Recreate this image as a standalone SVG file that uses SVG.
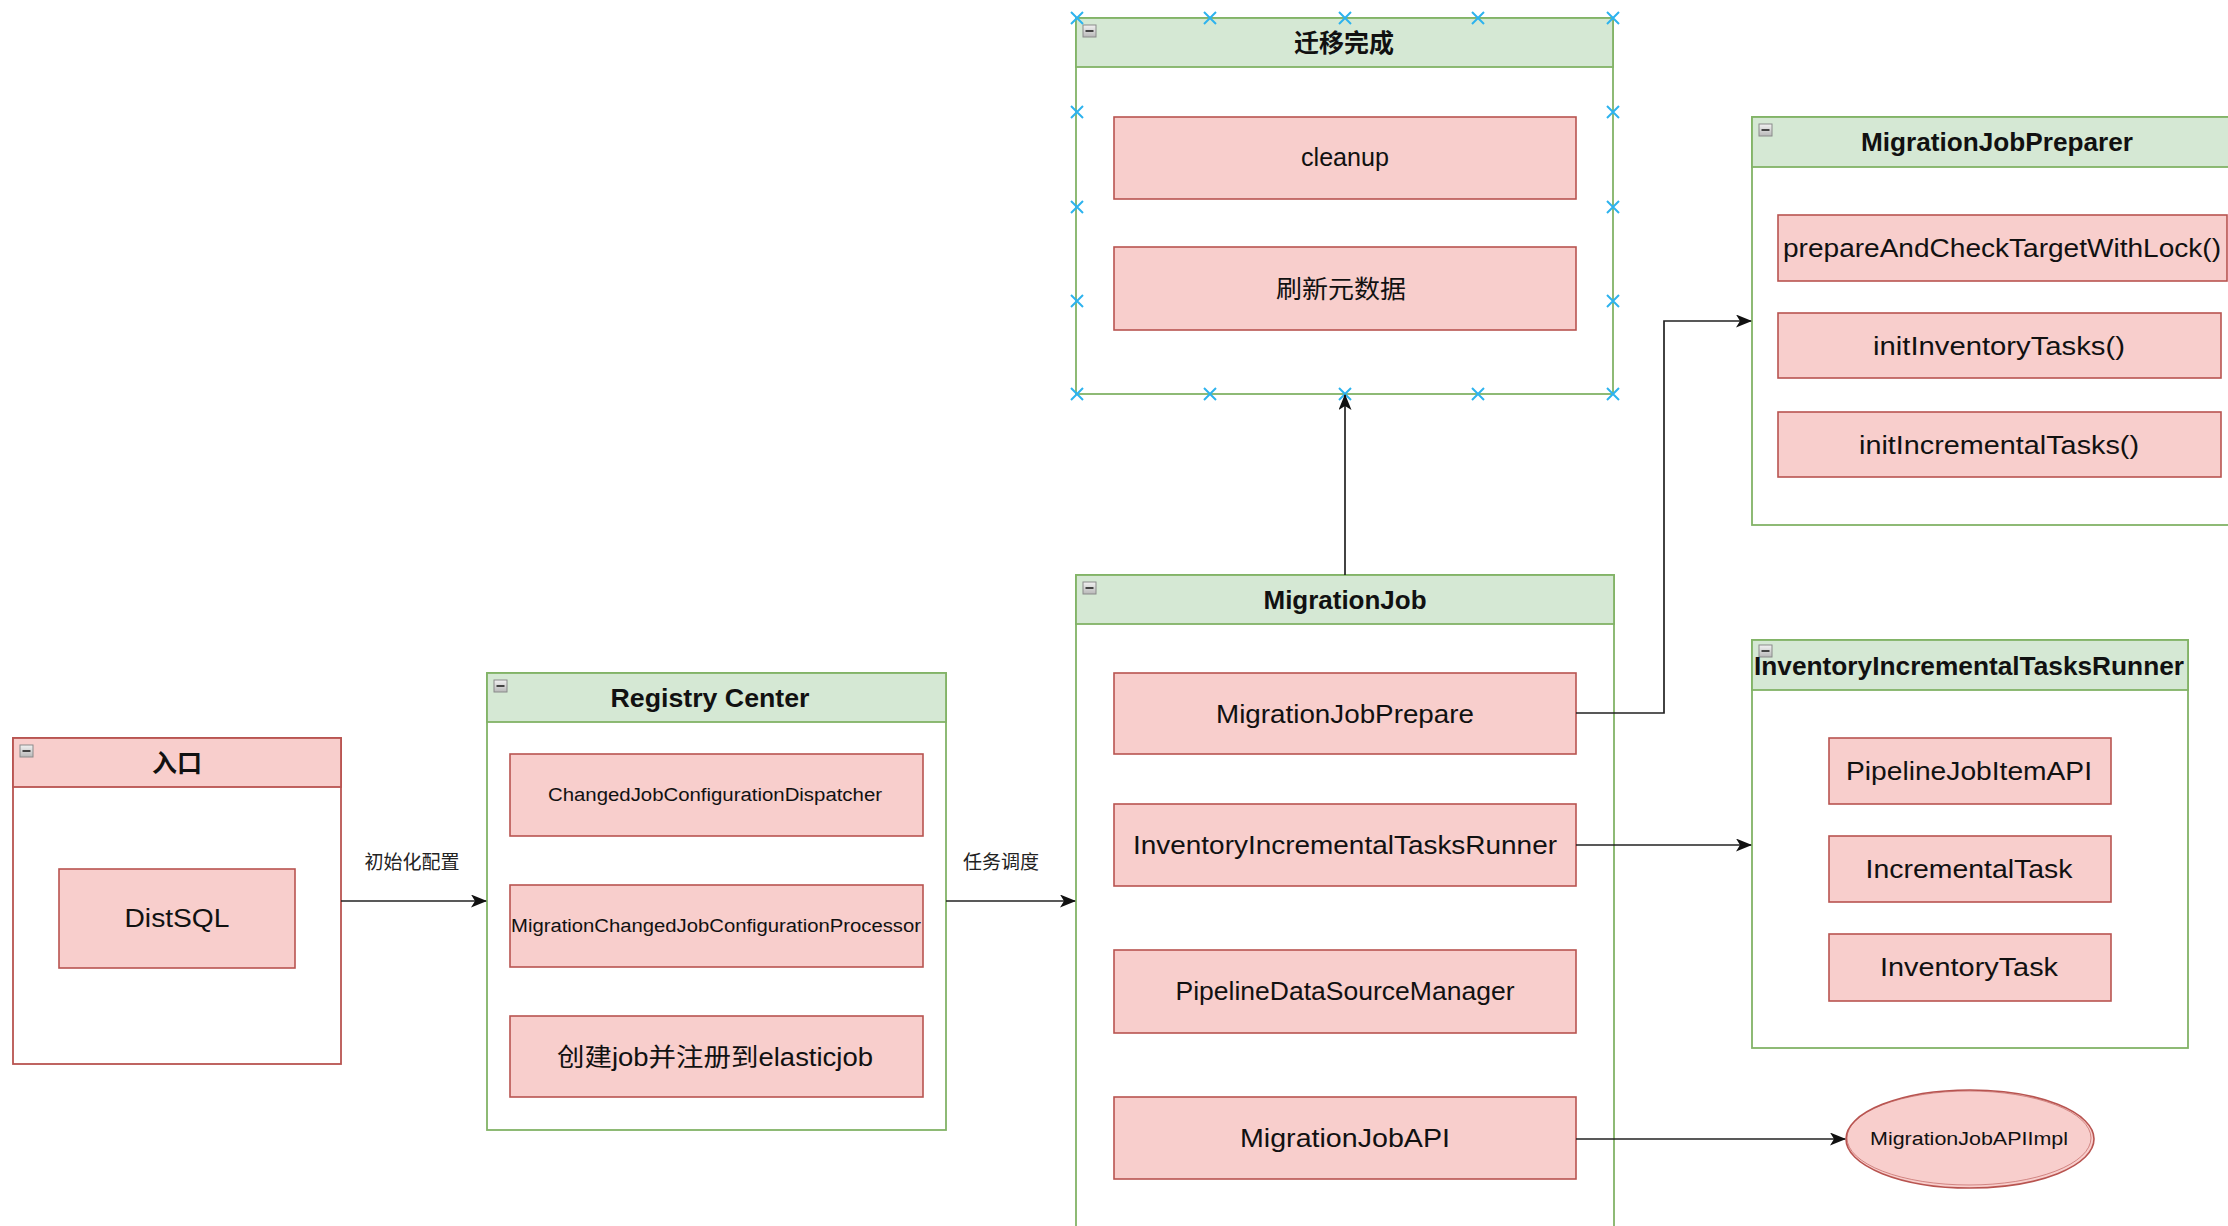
<svg xmlns="http://www.w3.org/2000/svg" width="2228" height="1226" viewBox="0 0 2228 1226">
<style>
.pk{fill:#f8cecc;stroke:#b85450;stroke-width:1.6}
.gbox{fill:#ffffff;stroke:#82b366;stroke-width:1.8}
.gh{fill:#d5e8d4;stroke:#82b366;stroke-width:1.8}
.rbox{fill:#ffffff;stroke:#b85450;stroke-width:1.8}
.rh{fill:#f8cecc;stroke:#b85450;stroke-width:1.8}
.t{font-family:"Liberation Sans","Noto Sans CJK SC",sans-serif;font-size:25px;fill:#111;text-anchor:middle;dominant-baseline:central}
.tb{font-family:"Liberation Sans","Noto Sans CJK SC",sans-serif;font-size:25px;font-weight:bold;fill:#111;text-anchor:middle;dominant-baseline:central}
.ts{font-family:"Liberation Sans","Noto Sans CJK SC",sans-serif;font-size:18px;fill:#111;text-anchor:middle;dominant-baseline:central}
.lbl{font-family:"Noto Sans CJK SC","Liberation Sans",sans-serif;font-size:19px;fill:#222;text-anchor:middle;dominant-baseline:central}
.cn{fill:none;stroke:#222;stroke-width:1.7}
.xm{stroke:#2db3ee;stroke-width:2;fill:none}
</style>
<defs>
<linearGradient id="ig" x1="0" y1="0" x2="0" y2="1"><stop offset="0" stop-color="#f2f2f2"/><stop offset="1" stop-color="#b8b8b8"/></linearGradient>
<g id="icon"><rect x="0" y="0" width="13" height="12" fill="url(#ig)" stroke="#8a8a8a" stroke-width="1"/><line x1="2.5" y1="6" x2="10.5" y2="6" stroke="#444" stroke-width="2"/></g>
<marker id="ah" markerWidth="18" markerHeight="14" refX="15" refY="6.5" orient="auto" markerUnits="userSpaceOnUse"><path d="M0,0 L16,6.5 L0,13 L4,6.5 Z" fill="#111"/></marker>
<path id="xx" d="M-6,-6 L6,6 M-6,6 L6,-6"/>
</defs>

<g id="entry">
<rect class="rbox" x="13" y="738" width="328" height="326"/>
<rect class="rh" x="13" y="738" width="328" height="49"/>
<use href="#icon" x="20" y="745"/>
<text class="tb" x="177" y="763">入口</text>
</g>
<g id="distsql">
<rect class="pk" x="59" y="869" width="236" height="99"/>
<text class="t" x="177" y="918" textLength="105" lengthAdjust="spacingAndGlyphs">DistSQL</text>
</g>

<g id="registry-center">
<rect class="gbox" x="487" y="673" width="459" height="457"/>
<rect class="gh" x="487" y="673" width="459" height="49"/>
<use href="#icon" x="494" y="680"/>
<text class="tb" x="710" y="698" textLength="199" lengthAdjust="spacingAndGlyphs">Registry  Center</text>
</g>
<g id="changed-job-config-dispatcher">
<rect class="pk" x="510" y="754" width="413" height="82"/>
<text class="ts" x="715" y="795" textLength="334" lengthAdjust="spacingAndGlyphs">ChangedJobConfigurationDispatcher</text>
</g>
<g id="migration-changed-job-config-processor">
<rect class="pk" x="510" y="885" width="413" height="82"/>
<text class="ts" x="716" y="926" textLength="410" lengthAdjust="spacingAndGlyphs">MigrationChangedJobConfigurationProcessor</text>
</g>
<g id="create-job">
<rect class="pk" x="510" y="1016" width="413" height="81"/>
<text class="t" x="715" y="1057" textLength="316" lengthAdjust="spacingAndGlyphs">创建job并注册到elasticjob</text>
</g>

<g id="migration-done">
<rect class="gbox" x="1076" y="18" width="537" height="376"/>
<rect class="gh" x="1076" y="18" width="537" height="49"/>
<use href="#icon" x="1083" y="25"/>
<text class="tb" x="1344" y="43">迁移完成</text>
<g class="xm">
<use href="#xx" x="1077" y="18"/><use href="#xx" x="1210" y="18"/><use href="#xx" x="1345" y="18"/><use href="#xx" x="1478" y="18"/><use href="#xx" x="1613" y="18"/>
<use href="#xx" x="1077" y="394"/><use href="#xx" x="1210" y="394"/><use href="#xx" x="1345" y="394"/><use href="#xx" x="1478" y="394"/><use href="#xx" x="1613" y="394"/>
<use href="#xx" x="1077" y="112"/><use href="#xx" x="1077" y="207"/><use href="#xx" x="1077" y="301"/>
<use href="#xx" x="1613" y="112"/><use href="#xx" x="1613" y="207"/><use href="#xx" x="1613" y="301"/>
</g>
</g>
<g id="cleanup">
<rect class="pk" x="1114" y="117" width="462" height="82"/>
<text class="t" x="1345" y="157" textLength="88" lengthAdjust="spacingAndGlyphs">cleanup</text>
</g>
<g id="refresh-metadata">
<rect class="pk" x="1114" y="247" width="462" height="83"/>
<text class="t" x="1341" y="289" textLength="130" lengthAdjust="spacingAndGlyphs">刷新元数据</text>
</g>

<g id="migration-job">
<rect class="gbox" x="1076" y="575" width="538" height="700"/>
<rect class="gh" x="1076" y="575" width="538" height="49"/>
<use href="#icon" x="1083" y="582"/>
<text class="tb" x="1345" y="600" textLength="163" lengthAdjust="spacingAndGlyphs">MigrationJob</text>
</g>
<g id="migration-job-prepare">
<rect class="pk" x="1114" y="673" width="462" height="81"/>
<text class="t" x="1345" y="714" textLength="258" lengthAdjust="spacingAndGlyphs">MigrationJobPrepare</text>
</g>
<g id="inventory-incremental-tasks-runner">
<rect class="pk" x="1114" y="804" width="462" height="82"/>
<text class="t" x="1345" y="845" textLength="424" lengthAdjust="spacingAndGlyphs">InventoryIncrementalTasksRunner</text>
</g>
<g id="pipeline-datasource-manager">
<rect class="pk" x="1114" y="950" width="462" height="83"/>
<text class="t" x="1345" y="991" textLength="339" lengthAdjust="spacingAndGlyphs">PipelineDataSourceManager</text>
</g>
<g id="migration-job-api">
<rect class="pk" x="1114" y="1097" width="462" height="82"/>
<text class="t" x="1345" y="1138" textLength="210" lengthAdjust="spacingAndGlyphs">MigrationJobAPI</text>
</g>

<g id="migration-job-preparer">
<rect class="gbox" x="1752" y="117" width="520" height="408"/>
<rect class="gh" x="1752" y="117" width="520" height="50"/>
<use href="#icon" x="1759" y="124"/>
<text class="tb" x="1997" y="142" textLength="272" lengthAdjust="spacingAndGlyphs">MigrationJobPreparer</text>
</g>
<g id="prepare-and-check">
<rect class="pk" x="1778" y="215" width="449" height="66"/>
<text class="t" x="2002" y="248" textLength="438" lengthAdjust="spacingAndGlyphs">prepareAndCheckTargetWithLock()</text>
</g>
<g id="init-inventory-tasks">
<rect class="pk" x="1778" y="313" width="443" height="65"/>
<text class="t" x="1999" y="346" textLength="252" lengthAdjust="spacingAndGlyphs">initInventoryTasks()</text>
</g>
<g id="init-incremental-tasks">
<rect class="pk" x="1778" y="412" width="443" height="65"/>
<text class="t" x="1999" y="445" textLength="280" lengthAdjust="spacingAndGlyphs">initIncrementalTasks()</text>
</g>

<g id="iitr-container">
<rect class="gbox" x="1752" y="640" width="436" height="408"/>
<rect class="gh" x="1752" y="640" width="436" height="50"/>
<use href="#icon" x="1759" y="645"/>
<text class="tb" x="1969" y="666" textLength="430" lengthAdjust="spacingAndGlyphs">InventoryIncrementalTasksRunner</text>
</g>
<g id="pipeline-job-item-api">
<rect class="pk" x="1829" y="738" width="282" height="66"/>
<text class="t" x="1969" y="771" textLength="246" lengthAdjust="spacingAndGlyphs">PipelineJobItemAPI</text>
</g>
<g id="incremental-task">
<rect class="pk" x="1829" y="836" width="282" height="66"/>
<text class="t" x="1969" y="869" textLength="207" lengthAdjust="spacingAndGlyphs">IncrementalTask</text>
</g>
<g id="inventory-task">
<rect class="pk" x="1829" y="934" width="282" height="67"/>
<text class="t" x="1969" y="967" textLength="178" lengthAdjust="spacingAndGlyphs">InventoryTask</text>
</g>

<g id="migration-job-api-impl">
<ellipse class="pk" cx="1970" cy="1139" rx="124" ry="49"/>
<ellipse cx="1969" cy="1138" rx="122" ry="47" fill="none" stroke="#b85450" stroke-width="1" opacity="0.6"/>
<text class="ts" x="1969" y="1139" textLength="198" lengthAdjust="spacingAndGlyphs">MigrationJobAPIImpl</text>
</g>

<g id="connectors">
<path class="cn" d="M341,901 H486" marker-end="url(#ah)"/>
<path class="cn" d="M946,901 H1075" marker-end="url(#ah)"/>
<path class="cn" d="M1345,575 V395" marker-end="url(#ah)"/>
<path class="cn" d="M1576,713 H1664 V321 H1751" marker-end="url(#ah)"/>
<path class="cn" d="M1576,845 H1751" marker-end="url(#ah)"/>
<path class="cn" d="M1576,1139 H1845" marker-end="url(#ah)"/>
<text class="lbl" x="412" y="860">初始化配置</text>
<text class="lbl" x="1001" y="860">任务调度</text>
</g>
</svg>
